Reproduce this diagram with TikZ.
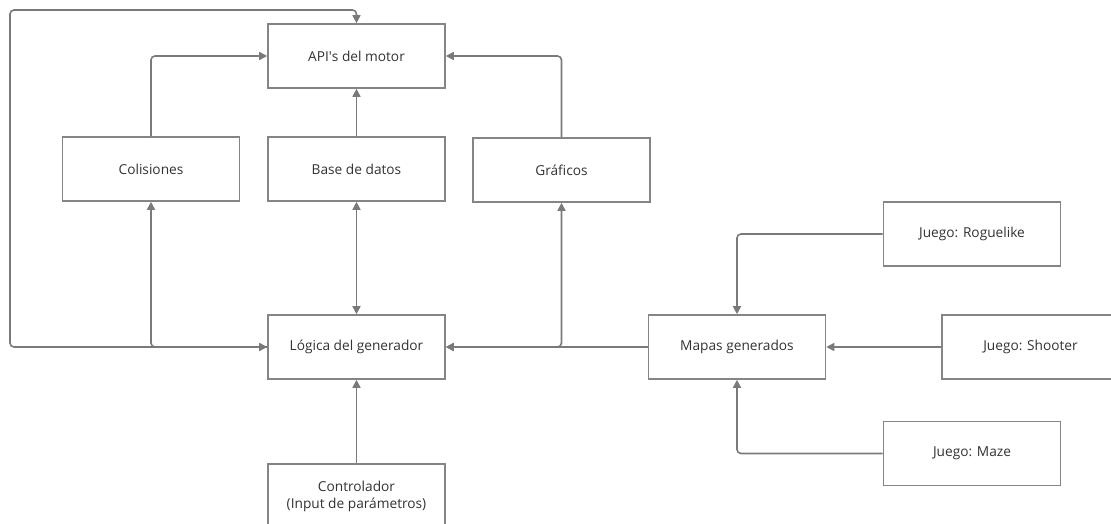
\documentclass[tikz,border=0pt]{standalone}
\usepackage{fontspec}
\setmainfont{Open Sans}
\usetikzlibrary{arrows.meta}
\definecolor{ln}{HTML}{7A7A7A}
\definecolor{bx}{HTML}{858585}
\definecolor{tx}{HTML}{333333}
\begin{document}
\begin{tikzpicture}[x=1pt,y=-1pt,
  box/.style={draw=bx,line width=1.6pt,fill=white,minimum width=177pt,minimum height=64pt,
    inner sep=0pt,align=center,text=tx,font=\fontsize{13.7}{17}\selectfont},
  conn/.style={draw=ln,line width=1.6pt,rounded corners=4pt},
  tip/.style={-{Triangle[length=8pt,width=8pt]}},
  tips/.style={{Triangle[length=8pt,width=8pt]}-{Triangle[length=8pt,width=8pt]}}]
\useasboundingbox (0,0) rectangle (1111,524);
\clip (0,0) rectangle (1111,524);
\node[box] (api) at (356.5,56) {API\textquotesingle s del motor};
\node[box] (col) at (151,169) {Colisiones};
\node[box] (bd) at (356.5,169) {Base de datos};
\node[box] (gra) at (561.5,170) {Gráficos};
\node[box] (log) at (356.5,347) {Lógica del generador};
\node[box] (ctl) at (356.5,496) {Controlador\\(Input de parámetros)};
\node[box] (map) at (737,347) {Mapas generados};
\node[box] (rog) at (972,234) {Juego: Roguelike};
\node[box] (sho) at (1030.5,347) {Juego: Shooter};
\node[box] (maze) at (972,453.5) {Juego: Maze};
\coordinate (c1) at (10,347);
\coordinate (c2) at (10,10);
\draw[conn,tip] (col.north) |- (api.west);
\draw[conn,tip] (bd.north) -- (api.south);
\draw[conn,tip] (gra.north) |- (api.east);
\draw[conn,tips] (bd.south) -- (log.north);
\draw[conn,tips] (col.south) |- (log.west);
\draw[conn,tips] (gra.south) |- (log.east);
\draw[conn,tip] (map.west) -- (log.east);
\draw[conn,tip] (log.west) -- (c1) -- (c2) -| (api.north);
\draw[conn,tip] (ctl.north) -- (log.south);
\draw[conn,tip] (rog.west) -| (map.north);
\draw[conn,tip] (sho.west) -- (map.east);
\draw[conn,tip] (maze.west) -| (map.south);
\end{tikzpicture}
\end{document}
